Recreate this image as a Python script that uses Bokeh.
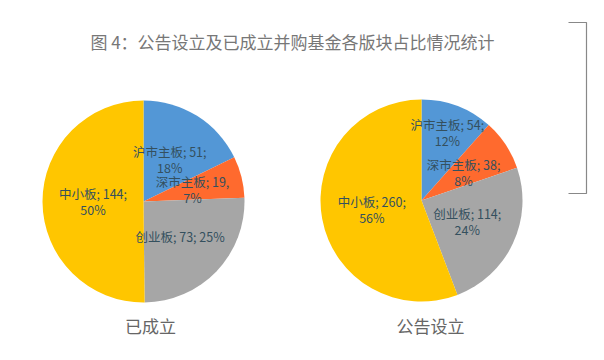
import math
from bokeh.plotting import figure
from bokeh.models import Range1d, ColumnDataSource
from bokeh.core.properties import value
from bokeh.embed import file_html
from bokeh.resources import INLINE

# ---- data ----
categories = ["沪市主板", "深市主板", "创业板", "中小板"]
established = [51, 19, 73, 144]      # 已成立
announced = [54, 38, 114, 260]       # 公告设立
pct_established = ["18%", "7%", "25%", "50%"]
pct_announced = ["12%", "8%", "24%", "56%"]
colors = ["#5397D6", "#FF6A2E", "#A6A6A6", "#FFC600"]
title_text = "图 4：公告设立及已成立并购基金各版块占比情况统计"
pie_titles = ["已成立", "公告设立"]

OX, OY = 1, 1          # page offset of the canvas
W, H = 600, 356
p = figure(width=W, height=H, output_backend="svg", toolbar_location=None,
           x_range=Range1d(OX, OX + W), y_range=Range1d(360 - OY - H, 360 - OY),
           min_border=0)
p.axis.visible = False
p.grid.visible = False
p.outline_line_color = None
p.background_fill_color = "white"
p.border_fill_color = "white"

def py(y):  # page y -> data y
    return 360 - y

FONT = value("Noto Sans CJK SC")
LBL = "#34505E"

def draw_pie(cx, cy, r, vals, pcts, seps, label_r):
    total = float(sum(vals))
    starts, ends = [], []
    l1x, l1y, l1t, l2x, l2y, l2t = [], [], [], [], [], []
    cum = 0.0
    for i, v in enumerate(vals):
        a0 = math.pi / 2 - 2 * math.pi * cum / total
        a1 = math.pi / 2 - 2 * math.pi * (cum + v) / total
        starts.append(a0)
        ends.append(a1)
        mid = (a0 + a1) / 2
        x = cx + label_r[i] * r * math.cos(mid)
        y = py(cy) + label_r[i] * r * math.sin(mid)
        if seps[i] is None:
            l1x.append(x); l1y.append(y)
            l1t.append(f"{categories[i]}; {v}; {pcts[i]}")
        else:
            l1x.append(x); l1y.append(y + 8)
            l1t.append(f"{categories[i]}; {v}{seps[i]}")
            l2x.append(x); l2y.append(y - 8)
            l2t.append(pcts[i])
        cum += v
    src = ColumnDataSource(dict(start=starts, end=ends, color=colors,
                                x=[cx] * len(vals), y=[py(cy)] * len(vals)))
    p.wedge(x="x", y="y", radius=r, start_angle="start", end_angle="end",
            direction="clock", fill_color="color", line_color=None, source=src)
    for xs, ys, ts in ((l1x, l1y, l1t), (l2x, l2y, l2t)):
        p.text(x=xs, y=ys, text=ts, text_font=FONT, text_font_size="12.5px",
               text_color=LBL, text_align="center", text_baseline="middle")

draw_pie(144, 202, 101, established, pct_established,
         [";", ",", None, ";"], [0.49, 0.5, 0.5, 0.5])
draw_pie(422, 201, 101, announced, pct_announced,
         [";", ";", ";", ";"], [0.72, 0.5, 0.5, 0.5])

# title
p.text(x=[293], y=[py(42)], text=[title_text], text_font=FONT,
       text_font_size="17px", text_color="#777777", text_align="center",
       text_baseline="middle")
# pie captions
p.text(x=[151, 431], y=[py(326), py(326)], text=pie_titles, text_font=FONT,
       text_font_size="17px", text_color="#666666", text_align="center",
       text_baseline="middle")

# decorative bracket on the right
p.line(x=[569, 587, 587, 569], y=[py(23), py(23), py(194), py(194)],
       line_color="#888888", line_width=1.2)

open("out.html", "w").write(file_html(p, INLINE))
